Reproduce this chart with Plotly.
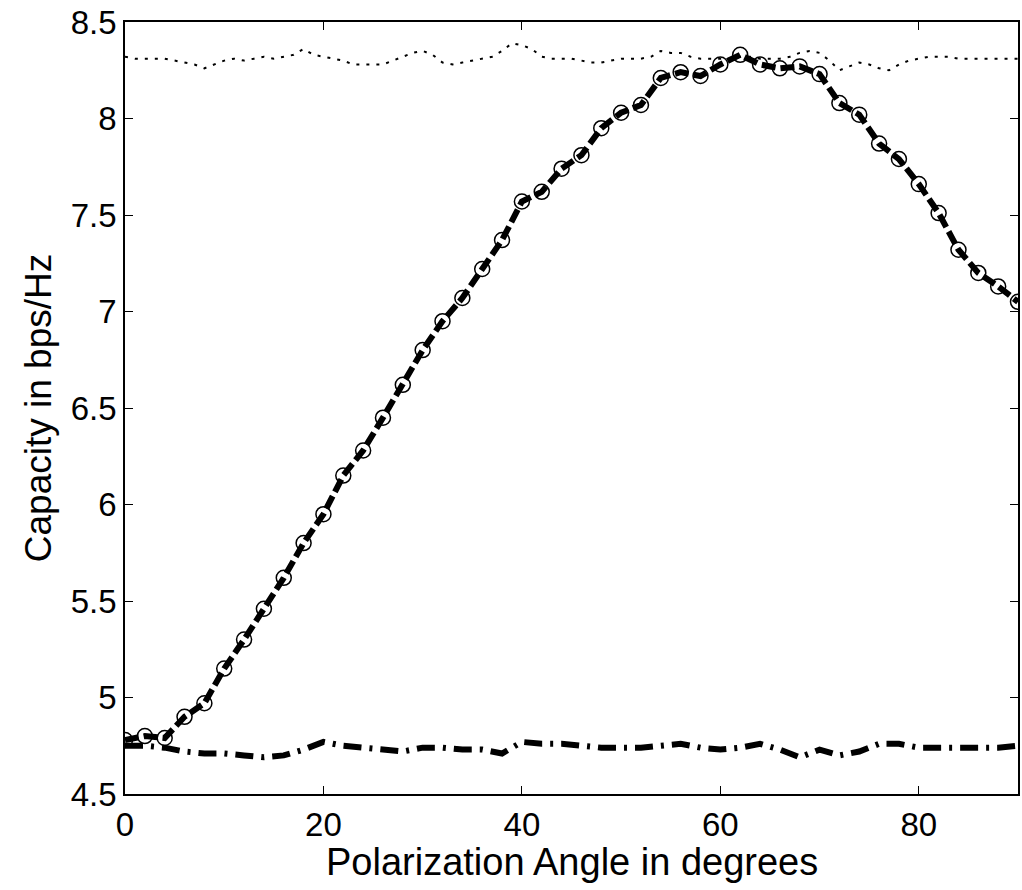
import plotly.graph_objects as go

# Polarization angle (degrees) at each sample of the optimised curve
angle_deg = list(range(0, 92, 2))
capacity_opt = [4.78, 4.80, 4.79, 4.90, 4.97, 5.15, 5.30, 5.46, 5.62, 5.80,
                5.95, 6.15, 6.28, 6.45, 6.62, 6.80, 6.95, 7.07, 7.22, 7.37,
                7.57, 7.62, 7.74, 7.81, 7.95, 8.03, 8.07, 8.21, 8.24, 8.22,
                8.28, 8.33, 8.28, 8.26, 8.27, 8.23, 8.08, 8.02, 7.87, 7.79,
                7.66, 7.51, 7.32, 7.20, 7.13, 7.05]

# Upper reference curve (1-degree steps)
angle_fine = list(range(0, 91))
capacity_upper = [8.32, 8.31, 8.31, 8.31, 8.31, 8.30, 8.29, 8.28, 8.26, 8.28,
                  8.30, 8.31, 8.30, 8.31, 8.32, 8.31, 8.32, 8.33, 8.36, 8.33,
                  8.32, 8.31, 8.30, 8.28, 8.28, 8.28, 8.28, 8.30, 8.32, 8.34,
                  8.35, 8.33, 8.29, 8.28, 8.29, 8.30, 8.31, 8.32, 8.35, 8.39,
                  8.38, 8.36, 8.32, 8.31, 8.31, 8.31, 8.30, 8.29, 8.29, 8.30,
                  8.31, 8.31, 8.31, 8.32, 8.35, 8.34, 8.34, 8.32, 8.31, 8.31,
                  8.31, 8.31, 8.32, 8.32, 8.31, 8.31, 8.31, 8.32, 8.34, 8.35,
                  8.34, 8.30, 8.25, 8.27, 8.29, 8.28, 8.26, 8.25, 8.28, 8.30,
                  8.31, 8.32, 8.32, 8.32, 8.31, 8.31, 8.31, 8.31, 8.31, 8.31,
                  8.31]

# Lower reference curve (2-degree steps)
capacity_lower = [4.75, 4.75, 4.74, 4.72, 4.71, 4.71, 4.70, 4.69, 4.70, 4.73,
                  4.77, 4.75, 4.74, 4.73, 4.72, 4.74, 4.74, 4.73, 4.73, 4.71,
                  4.77, 4.76, 4.76, 4.75, 4.74, 4.74, 4.74, 4.75, 4.76, 4.74,
                  4.73, 4.74, 4.76, 4.73, 4.69, 4.73, 4.70, 4.72, 4.76, 4.76,
                  4.74, 4.74, 4.74, 4.74, 4.74, 4.75]

x_ticks = [0, 20, 40, 60, 80]
y_ticks = [4.5, 5, 5.5, 6, 6.5, 7, 7.5, 8, 8.5]
y_tick_text = ["4.5", "5", "5.5", "6", "6.5", "7", "7.5", "8", "8.5"]

FONT = "Liberation Sans, Arial, sans-serif"

fig = go.Figure()

fig.add_trace(go.Scatter(
    x=angle_fine, y=capacity_upper, mode="lines",
    line=dict(color="black", width=2, dash="3px,7px"),
    showlegend=False,
))

fig.add_trace(go.Scatter(
    x=angle_deg, y=capacity_lower, mode="lines",
    line=dict(color="black", width=6, dash="18px,8px,3px,8px"),
    showlegend=False,
))

fig.add_trace(go.Scatter(
    x=angle_deg, y=capacity_opt, mode="lines+markers",
    line=dict(color="black", width=6, dash="14px,5px"),
    marker=dict(symbol="circle-open", size=15, color="black",
                line=dict(width=1.5, color="black")),
    showlegend=False,
))

axis_common = dict(
    showline=True, linecolor="black", linewidth=1.8, mirror="ticks",
    ticks="inside", ticklen=8, tickwidth=1.2, tickcolor="black",
    showgrid=False, zeroline=False,
    tickfont=dict(family=FONT, size=33, color="black"),
)

fig.update_layout(
    width=1022, height=890,
    margin=dict(l=125, r=2, t=22, b=96),
    paper_bgcolor="white", plot_bgcolor="white",
    font=dict(family=FONT, color="black"),
    xaxis=dict(range=[0, 90], tickvals=x_ticks, **axis_common),
    yaxis=dict(
        range=[4.5, 8.5], tickvals=y_ticks, ticktext=y_tick_text,
        title=dict(text="Capacity in bps/Hz",
                   font=dict(family=FONT, size=37), standoff=8),
        **axis_common,
    ),
    annotations=[dict(
        text="Polarization Angle in degrees",
        xref="paper", yref="paper", x=0.5, y=-0.088,
        xanchor="center", yanchor="middle", showarrow=False,
        font=dict(family=FONT, size=38, color="black"),
    )],
)

fig.write_html("out.html")
